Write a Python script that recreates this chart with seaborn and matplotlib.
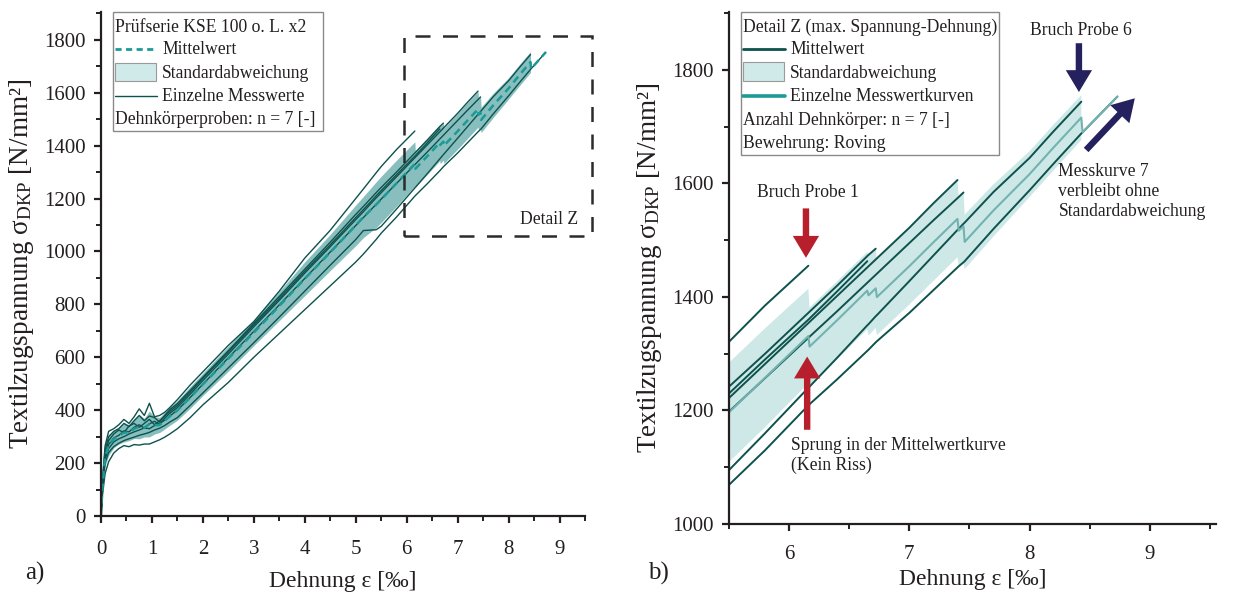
import numpy as np
import pandas as pd
import matplotlib
matplotlib.use("Agg")
import matplotlib.pyplot as plt
import seaborn as sns
from matplotlib.lines import Line2D
from matplotlib.patches import Rectangle
from matplotlib.ticker import MultipleLocator

# ---------------- data ----------------
strain = [0, 0.03, 0.08, 0.15, 0.25, 0.35, 0.45, 0.55, 0.65, 0.75,
          0.85, 0.95, 1.05, 1.15, 1.25, 1.35, 1.5, 1.75, 2.0, 2.5,
          3.0, 3.5, 4.0, 4.5, 5.0, 5.15, 5.4, 5.5, 5.8, 6.16,
          6.17, 6.4, 6.65, 6.66, 6.72, 6.73, 7.0, 7.2, 7.4, 7.41,
          7.45, 7.46, 7.7, 8.0, 8.2, 8.43, 8.44, 8.73]

probe_1 = [0, 140, 265, 320, 330, 345, 365, 350, 375, 405,
           380, 426, 375, 380, 392, 410, 440, 495, 545, 645,
           735, 850, 975, 1080, 1200, 1236, 1297, 1321, 1385, 1455]
probe_2 = [0, 130, 250, 300, 320, 330, 350, 338, 360, 380,
           360, 378, 372, 355, 380, 402, 425, 475, 525, 625,
           728, 830, 933, 1035, 1140, 1170, 1222, 1242, 1300, 1372,
           1374, 1420, 1472, 1474, 1485]
probe_3 = [0, 120, 235, 285, 310, 325, 315, 340, 350, 335,
           350, 365, 345, 360, 378, 395, 418, 468, 520, 620,
           722, 822, 925, 1025, 1128, 1158, 1210, 1230, 1290, 1360,
           1362, 1410, 1463]
probe_4 = [0, 115, 225, 270, 295, 305, 322, 318, 335, 345,
           332, 348, 358, 345, 370, 388, 410, 460, 512, 612,
           715, 815, 918, 1018, 1120, 1150, 1202, 1222, 1282, 1354,
           1356, 1402, 1452, 1454, 1466, 1468, 1522, 1565, 1606]
probe_5 = [0, 110, 215, 255, 280, 292, 300, 310, 318, 325,
           333, 330, 342, 350, 362, 378, 400, 448, 498, 598,
           698, 798, 898, 998, 1098, 1128, 1178, 1198, 1257, 1328,
           1330, 1375, 1425, 1427, 1439, 1441, 1495, 1535, 1574, 1576,
           1584]
probe_6 = [0, 105, 200, 240, 262, 275, 285, 292, 298, 305,
           310, 316, 325, 332, 342, 355, 372, 418, 465, 560,
           655, 752, 850, 948, 1045, 1079, 1082, 1095, 1160, 1240,
           1242, 1293, 1350, 1352, 1366, 1368, 1428, 1473, 1518, 1520,
           1529, 1531, 1585, 1645, 1692, 1744]
probe_7 = [0, 80, 160, 205, 238, 255, 266, 262, 270, 268,
           272, 272, 280, 288, 298, 310, 330, 372, 420, 505,
           600, 690, 780, 870, 960, 990, 1045, 1069, 1130, 1209,
           1211, 1255, 1305, 1307, 1320, 1322, 1372, 1412, 1452, 1454,
           1461, 1463, 1520, 1588, 1635, 1688, 1690, 1753]
probe_names = ["Probe 1", "Probe 2", "Probe 3", "Probe 4",
               "Probe 5", "Probe 6", "Probe 7"]

curves = [probe_1, probe_2, probe_3, probe_4, probe_5, probe_6, probe_7]
rows = []
for name, vals in zip(probe_names, curves):
    for e, s in zip(strain, vals):
        rows.append((name, e, s))
df = pd.DataFrame(rows, columns=["Probe", "Dehnung", "Spannung"])

# ---------------- style ----------------
sns.set_theme(style="ticks")
plt.rcParams["font.family"] = ["Liberation Serif", "DejaVu Serif"]
plt.rcParams["mathtext.fontset"] = "custom"
plt.rcParams["mathtext.rm"] = "Liberation Serif"
plt.rcParams["mathtext.it"] = "Liberation Serif:italic"
plt.rcParams["axes.unicode_minus"] = False

W, H = 1233, 597
fig = plt.figure(figsize=(W / 100, H / 100), dpi=100)
fig.patch.set_facecolor("white")

def fx(px):
    return px / W

def fy(py):
    return 1 - py / H

axA = fig.add_axes([fx(101), fy(516), (585 - 101) / W, (516 - 12) / H])
axB = fig.add_axes([fx(729), fy(524), (1216 - 729) / W, (524 - 12) / H])

dark = "#0d524d"
teal = "#1b9a98"
ink = "#231f20"
txt_size = 12.7

def draw_curves(ax, band_color, mean_color, mean_ls, lw_ind, lw_mean):
    sns.lineplot(data=df, x="Dehnung", y="Spannung", estimator="mean",
                 errorbar="sd", color=band_color, linewidth=0,
                 err_kws=dict(alpha=1, linewidth=0), ax=ax, legend=False)
    sns.lineplot(data=df, x="Dehnung", y="Spannung", units="Probe",
                 estimator=None, color=dark, linewidth=lw_ind, ax=ax,
                 legend=False)
    sns.lineplot(data=df, x="Dehnung", y="Spannung", estimator="mean",
                 errorbar=None, color=mean_color, linestyle=mean_ls,
                 linewidth=lw_mean, ax=ax, legend=False)

draw_curves(axA, "#88bfbe", teal, (0, (3, 2)), 1.0, 1.8)
draw_curves(axB, "#cde8e7", "#72b3b0", "-", 1.4, 1.5)

ylab = "Textilzugspannung σ$_{\\mathrm{DKP}}$ [N/mm²]"
for ax, xpad, xlpad in ((axA, 12, 9), (axB, 10, 4)):
    ax.spines[["top", "right"]].set_visible(False)
    for s in ("left", "bottom"):
        ax.spines[s].set_linewidth(1.6)
        ax.spines[s].set_color(ink)
    ax.tick_params(which="major", direction="out", length=5, width=1.6,
                   color=ink, labelsize=15, labelcolor=ink)
    ax.tick_params(which="minor", direction="out", length=3.5, width=1.4,
                   color=ink)
    ax.tick_params(axis="x", which="major", pad=xpad)
    ax.tick_params(axis="y", which="major", pad=6)
    ax.set_xlabel("Dehnung ε [‰]", fontsize=17, color=ink, labelpad=xlpad)
    ax.set_ylabel(ylab, fontsize=19.5, color=ink, labelpad=6)
    ax.xaxis.set_major_locator(MultipleLocator(1))
    ax.xaxis.set_minor_locator(MultipleLocator(0.5))
    ax.yaxis.set_major_locator(MultipleLocator(200))
    ax.yaxis.set_minor_locator(MultipleLocator(100))
    ax.grid(False)

axA.set_xlim(0, 9.5)
axA.set_ylim(0, 1905)
axB.set_xlim(5.5, 9.55)
axB.set_ylim(1000, 1902)
axB.set_xticks([6, 7, 8, 9])
axB.set_yticks([1000, 1200, 1400, 1600, 1800])

# ---------------- Detail Z box in panel a ----------------
axA.add_patch(Rectangle((5.94, 1059), 3.70, 756, fill=False,
                        edgecolor="#2b2b2b", linewidth=1.8,
                        linestyle=(0, (6, 5)), clip_on=False, zorder=5))
axA.text(9.37, 1119, "Detail Z", ha="right", va="center",
         fontsize=txt_size, color=ink)

# ---------------- manual legends ----------------
def legend_box(x0, y0, x1, y1):
    fig.add_artist(Rectangle((fx(x0), fy(y1)), fx(x1) - fx(x0),
                             fy(y0) - fy(y1), transform=fig.transFigure,
                             facecolor="white", edgecolor="#8a8a8a",
                             linewidth=1.0, zorder=10))

def leg_text(px, pyc, s):
    fig.text(fx(px), fy(pyc + 5.5), s, fontsize=txt_size, color=ink,
             va="baseline", ha="left", zorder=11)

def leg_line(x0, x1, pyc, color, lw, ls="-"):
    fig.add_artist(Line2D([fx(x0), fx(x1)], [fy(pyc), fy(pyc)],
                          transform=fig.transFigure, color=color,
                          linewidth=lw, linestyle=ls, zorder=11))

def leg_patch(x0, x1, y0, y1):
    fig.add_artist(Rectangle((fx(x0), fy(y1)), fx(x1) - fx(x0),
                             fy(y0) - fy(y1), transform=fig.transFigure,
                             facecolor="#d0eaea", edgecolor="#9a9a9a",
                             linewidth=0.8, zorder=11))

# panel a legend
legend_box(113, 12, 323, 131)
leg_text(115, 26, "Prüfserie KSE 100 o. L. x2")
leg_line(115, 157, 49, teal, 2.0, (0, (2.2, 1.6)))
leg_text(162, 49, "Mittelwert")
leg_patch(115, 156, 63, 81)
leg_text(162, 72, "Standardabweichung")
leg_line(115, 157, 95.5, dark, 1.0)
leg_text(162, 95.5, "Einzelne Messwerte")
leg_text(115, 118.5, "Dehnkörperproben: n = 7 [-]")

# panel b legend
legend_box(741, 12, 999, 155)
leg_text(743, 26, "Detail Z (max. Spannung-Dehnung)")
leg_line(743, 785, 48.5, dark, 2.0)
leg_text(790, 49, "Mittelwert")
leg_patch(743, 784, 62.5, 81)
leg_text(790, 72, "Standardabweichung")
leg_line(743, 785, 95.7, teal, 2.6)
leg_text(790, 96, "Einzelne Messwertkurven")
leg_text(743, 119.5, "Anzahl Dehnkörper: n = 7 [-]")
leg_text(743, 143, "Bewehrung: Roving")

# ---------------- annotations panel b ----------------
red = "#b81f2d"
navy = "#25215e"

def arrow(ax, tail, tip, color):
    ax.annotate("", xy=tip, xytext=tail,
                arrowprops=dict(arrowstyle="simple,head_length=0.75,head_width=0.9,tail_width=0.22",
                                color=color, mutation_scale=21,
                                shrinkA=0, shrinkB=0, linewidth=0),
                zorder=6)

arrow(axB, (6.14, 1556), (6.14, 1469), red)
arrow(axB, (6.15, 1166), (6.15, 1295), red)
arrow(axB, (8.41, 1847), (8.41, 1761), navy)
arrow(axB, (8.47, 1659), (8.875, 1750), navy)

axB.text(6.16, 1584, "Bruch Probe 1", ha="center", va="center",
         fontsize=txt_size, color=ink)
axB.text(8.43, 1870, "Bruch Probe 6", ha="center", va="center",
         fontsize=txt_size, color=ink)
axB.text(8.24, 1636, "Messkurve 7\nverbleibt ohne\nStandardabweichung",
         ha="left", va="top", fontsize=txt_size, color=ink,
         linespacing=1.25)
axB.text(6.014, 1154, "Sprung in der Mittelwertkurve\n(Kein Riss)",
         ha="left", va="top", fontsize=txt_size, color=ink,
         linespacing=1.25)

# panel labels
fig.text(fx(25), fy(580), "a)", fontsize=18, color=ink, va="baseline")
fig.text(fx(648), fy(580), "b)", fontsize=18, color=ink, va="baseline")

fig.savefig("out.png", dpi=100, facecolor="white")
